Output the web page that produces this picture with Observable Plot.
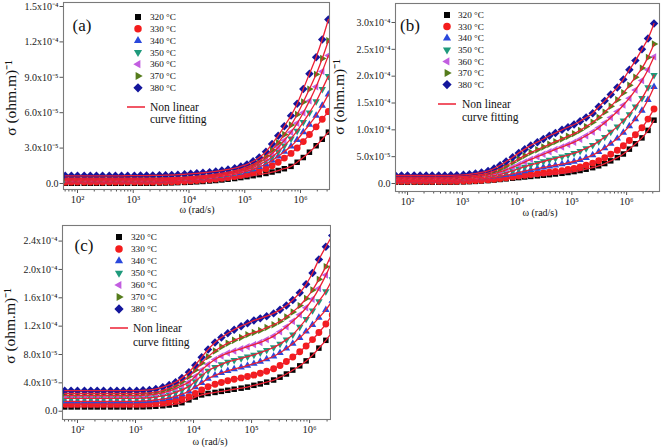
<!DOCTYPE html>
<html><head><meta charset="utf-8">
<script src="https://cdn.jsdelivr.net/npm/d3@7"></script>
<script src="https://cdn.jsdelivr.net/npm/@observablehq/plot@0.6"></script>
<style>
body{margin:0;background:#fff;}
#wrap{position:relative;width:661px;height:448px;overflow:hidden;background:#fff;}
#wrap svg{position:absolute;}
</style></head><body><div id="wrap"></div>
<script>
// ---------- data (σ in units of 1e-5 (ohm.m)^-1, x = log10 ω) ----------
const logOmega = [1.78,1.89,2.00,2.12,2.23,2.34,2.45,2.57,2.68,2.79,2.90,3.02,3.13,3.24,3.35,3.47,3.58,3.69,3.80,3.92,4.03,4.14,4.25,4.37,4.48,4.59,4.70,4.82,4.93,5.04,5.15,5.26,5.38,5.49,5.60,5.71,5.83,5.94,6.05,6.16,6.28,6.39,6.50];
const temps = ["320 °C","330 °C","340 °C","350 °C","360 °C","370 °C","380 °C"];

// panel (a)
const a320 = [0.02,0.02,0.02,0.02,0.02,0.02,0.02,0.02,0.02,0.02,0.02,0.02,0.02,0.02,0.02,0.03,0.04,0.05,0.07,0.09,0.11,0.14,0.17,0.21,0.25,0.30,0.36,0.42,0.50,0.58,0.66,0.75,0.85,0.97,1.10,1.25,1.45,1.80,2.20,2.65,3.20,3.75,4.35];
const a330 = [0.12,0.12,0.12,0.12,0.12,0.12,0.12,0.12,0.12,0.12,0.12,0.12,0.12,0.12,0.12,0.13,0.14,0.15,0.17,0.19,0.22,0.25,0.29,0.33,0.38,0.44,0.51,0.59,0.68,0.79,0.92,1.07,1.25,1.50,1.80,2.15,2.55,3.00,3.55,4.15,4.80,5.45,6.10];
const a340 = [0.22,0.22,0.22,0.22,0.22,0.22,0.22,0.22,0.22,0.22,0.22,0.22,0.22,0.22,0.22,0.23,0.24,0.26,0.28,0.31,0.34,0.38,0.42,0.47,0.53,0.60,0.68,0.78,0.90,1.04,1.20,1.40,1.65,1.95,2.30,2.70,3.15,3.70,4.35,5.00,5.75,6.60,7.55];
const a350 = [0.30,0.30,0.30,0.30,0.30,0.30,0.30,0.30,0.30,0.30,0.30,0.30,0.30,0.30,0.30,0.31,0.32,0.34,0.36,0.39,0.42,0.46,0.51,0.56,0.62,0.70,0.79,0.90,1.03,1.18,1.37,1.60,1.90,2.25,2.70,3.20,3.80,4.45,5.20,6.00,6.95,8.00,9.10];
const a360 = [0.38,0.38,0.38,0.38,0.38,0.38,0.38,0.38,0.38,0.38,0.38,0.38,0.38,0.38,0.38,0.39,0.40,0.42,0.44,0.47,0.50,0.54,0.59,0.64,0.70,0.78,0.87,0.98,1.12,1.28,1.50,1.78,2.12,2.55,3.05,3.65,4.35,5.10,6.00,7.00,8.20,9.50,10.85];
const a370 = [0.45,0.45,0.45,0.45,0.45,0.45,0.45,0.45,0.45,0.45,0.45,0.45,0.45,0.45,0.45,0.46,0.47,0.49,0.51,0.54,0.58,0.62,0.67,0.72,0.79,0.87,0.96,1.08,1.22,1.40,1.63,1.93,2.35,2.85,3.45,4.15,4.95,5.85,6.90,8.00,9.25,10.6,12.1];
const a380 = [0.65,0.65,0.65,0.65,0.65,0.65,0.65,0.65,0.65,0.65,0.66,0.66,0.67,0.67,0.68,0.69,0.70,0.72,0.75,0.78,0.82,0.86,0.91,0.96,1.02,1.10,1.19,1.30,1.45,1.62,1.88,2.20,2.70,3.35,4.05,4.85,5.75,6.75,8.00,9.30,10.7,12.2,13.9];

// panel (b)
const b320 = [0.25,0.25,0.25,0.25,0.25,0.25,0.25,0.25,0.25,0.25,0.27,0.30,0.34,0.39,0.46,0.54,0.64,0.75,0.87,0.99,1.10,1.21,1.32,1.43,1.54,1.65,1.77,1.90,2.05,2.22,2.42,2.66,2.95,3.30,3.72,4.22,4.82,5.50,6.40,7.40,8.50,9.90,11.8];
const b330 = [0.40,0.40,0.40,0.40,0.40,0.40,0.40,0.40,0.40,0.40,0.42,0.45,0.49,0.54,0.61,0.70,0.81,0.94,1.08,1.23,1.38,1.52,1.66,1.80,1.94,2.08,2.23,2.40,2.60,2.82,3.08,3.40,3.80,4.25,4.80,5.45,6.20,7.05,8.00,9.10,10.4,12.0,13.9];
const b340 = [0.60,0.60,0.60,0.60,0.60,0.60,0.60,0.60,0.60,0.60,0.63,0.67,0.72,0.79,0.88,1.00,1.15,1.33,1.55,1.80,2.05,2.30,2.55,2.78,3.00,3.20,3.40,3.62,3.85,4.10,4.40,4.80,5.30,5.90,6.60,7.45,8.40,9.50,10.7,12.0,13.6,15.6,18.0];
const b350 = [0.80,0.80,0.80,0.80,0.80,0.80,0.80,0.80,0.80,0.80,0.83,0.88,0.95,1.03,1.14,1.28,1.46,1.70,2.00,2.35,2.75,3.10,3.45,3.80,4.10,4.40,4.70,5.00,5.30,5.65,6.05,6.55,7.15,7.85,8.65,9.60,10.6,11.7,12.9,14.3,15.9,17.9,20.2];
const b360 = [1.00,1.00,1.00,1.00,1.00,1.00,1.00,1.00,1.00,1.00,1.04,1.10,1.18,1.28,1.42,1.60,1.85,2.15,2.55,3.00,3.50,4.00,4.50,5.00,5.45,5.90,6.35,6.80,7.25,7.70,8.25,8.90,9.60,10.4,11.3,12.3,13.4,14.6,15.9,17.4,19.2,21.2,23.6];
const b370 = [1.20,1.20,1.20,1.20,1.20,1.20,1.20,1.20,1.20,1.20,1.25,1.30,1.40,1.52,1.70,1.95,2.30,2.75,3.30,3.95,4.60,5.20,5.80,6.30,6.80,7.30,7.80,8.30,8.80,9.30,9.90,10.6,11.4,12.3,13.3,14.4,15.6,16.9,18.3,19.8,21.5,23.5,26.0];
const b380 = [1.50,1.50,1.50,1.50,1.50,1.50,1.50,1.50,1.50,1.52,1.55,1.62,1.72,1.85,2.05,2.35,2.80,3.40,4.10,4.90,5.70,6.40,7.10,7.70,8.30,8.90,9.40,10.0,10.5,11.0,11.6,12.3,13.1,14.3,15.4,16.6,17.9,19.4,21.2,22.9,25.0,27.0,29.8];

// panel (c)
const c320 = [0.60,0.60,0.60,0.60,0.60,0.60,0.60,0.60,0.60,0.60,0.60,0.60,0.62,0.65,0.70,0.77,0.87,1.00,1.20,1.60,2.00,2.30,2.50,2.65,2.80,2.95,3.10,3.25,3.40,3.65,3.85,4.10,4.40,4.80,5.25,5.80,6.40,7.10,7.90,8.90,10.0,11.2,12.5];
const c330 = [1.00,1.00,1.00,1.00,1.00,1.00,1.00,1.00,1.00,1.00,1.00,1.00,1.03,1.07,1.13,1.22,1.35,1.52,1.75,2.05,2.50,3.00,3.45,3.80,4.05,4.30,4.50,4.70,4.90,5.10,5.35,5.65,6.00,6.45,7.00,7.65,8.40,9.20,10.1,11.1,12.3,13.6,15.0];
const c340 = [1.40,1.40,1.40,1.40,1.40,1.40,1.40,1.40,1.40,1.40,1.40,1.40,1.44,1.50,1.58,1.70,1.88,2.10,2.40,2.80,3.40,4.00,4.60,5.05,5.40,5.70,5.95,6.20,6.45,6.70,7.00,7.35,7.75,8.25,8.85,9.55,10.35,11.25,12.2,13.2,14.3,15.6,17.0];
const c350 = [1.80,1.80,1.80,1.80,1.80,1.80,1.80,1.80,1.80,1.80,1.80,1.80,1.85,1.90,2.00,2.15,2.35,2.65,3.00,3.50,4.20,5.00,5.70,6.20,6.60,6.95,7.20,7.45,7.70,7.95,8.25,8.60,9.00,9.50,10.1,10.8,11.9,13.0,14.2,15.5,16.9,18.6,20.6];
const c360 = [2.20,2.20,2.20,2.20,2.20,2.20,2.20,2.20,2.20,2.20,2.20,2.20,2.25,2.30,2.40,2.60,2.85,3.20,3.60,4.10,4.90,5.80,6.60,7.30,7.80,8.20,8.50,8.80,9.10,9.40,9.70,10.1,10.6,11.2,11.9,12.7,13.6,14.6,15.8,17.3,19.2,21.2,23.4];
const c370 = [2.50,2.50,2.50,2.50,2.50,2.50,2.50,2.50,2.50,2.50,2.50,2.50,2.55,2.60,2.72,2.95,3.25,3.65,4.20,4.90,5.80,6.80,7.70,8.50,9.10,9.60,10.0,10.4,10.8,11.1,11.4,11.8,12.2,12.7,13.3,14.0,14.9,15.9,17.1,18.6,20.4,22.4,24.6];
const c380 = [2.90,2.90,2.90,2.90,2.90,2.90,2.90,2.90,2.90,2.90,2.90,2.90,2.95,3.00,3.15,3.40,3.70,4.10,4.70,5.50,6.50,7.60,8.70,9.70,10.4,11.0,11.5,12.0,12.4,12.8,13.1,13.4,13.8,14.3,14.9,15.7,16.7,17.9,19.5,21.4,23.2,24.8,26.8];

// tick labels
const xTicks = [1e2,1e3,1e4,1e5,1e6];
const xTickLabels = ["10²","10³","10⁴","10⁵","10⁶"];
const yTicksA = [0,3,6,9,12,15];
const yLabelsA = ["0.0","3.0x10⁻⁵","6.0x10⁻⁵","9.0x10⁻⁵","1.2x10⁻⁴","1.5x10⁻⁴"];
const yTicksB = [0,5,10,15,20,25,30];
const yLabelsB = ["0.0","5.0x10⁻⁵","1.0x10⁻⁴","1.5x10⁻⁴","2.0x10⁻⁴","2.5x10⁻⁴","3.0x10⁻⁴"];
const yTicksC = [0,4,8,12,16,20,24];
const yLabelsC = ["0.0","4.0x10⁻⁵","8.0x10⁻⁵","1.2x10⁻⁴","1.6x10⁻⁴","2.0x10⁻⁴","2.4x10⁻⁴"];
const yTitle = "σ (ohm.m)⁻¹";
const xTitle = "ω (rad/s)";
const fitLabel = ["Non linear","curve fitting"];

// ---------- styling ----------
const FONT = "'Liberation Serif','Times New Roman',serif";
const COLORS = ["#050505","#f41c1c","#2a48dc","#1f9a7c","#c25ee0","#557c1c","#14169c"];
const FIT = "#ec1f33";
function tri(deg){return {draw(ctx,size){const R=Math.sqrt(size/Math.PI)*1.32;for(let j=0;j<3;j++){const a=(deg+120*j)*Math.PI/180;const x=R*Math.cos(a),y=R*Math.sin(a);j?ctx.lineTo(x,y):ctx.moveTo(x,y);}ctx.closePath();}};}
const diamond = {draw(ctx,size){const R=Math.sqrt(size/Math.PI)*1.3;ctx.moveTo(0,-R);ctx.lineTo(R,0);ctx.lineTo(0,R);ctx.lineTo(-R,0);ctx.closePath();}};
const square = {draw(ctx,size){const s=Math.sqrt(size)*0.95/2;ctx.rect(-s,-s,2*s,2*s);}};
const circle = {draw(ctx,size){const r=Math.sqrt(size/Math.PI)*1.05;ctx.moveTo(r,0);ctx.arc(0,0,r,0,2*Math.PI);}};
const SYMS = [square, circle, tri(-90), tri(90), tri(180), tri(0), diamond];

const panels = [
  {series:[a320,a330,a340,a350,a360,a370,a380], yTicks:yTicksA, yLabels:yLabelsA, tag:"(a)",
   left:0, top:0, width:331, height:218, mt:2, mr:2, mb:29, ml:63, xd:[1.749,6.52], yd:[-0.51,15.34],
   leg:{mx:138, tx:150, y0:17, dy:11.8, ly:107, lx0:127, lx1:145, ftx:150, fdy:12}, tagPos:[82,25], yl:[11,98], xl:[197,209]},
  {series:[b320,b330,b340,b350,b360,b370,b380], yTicks:yTicksB, yLabels:yLabelsB, tag:"(b)",
   left:330, top:0, width:331, height:220, mt:3, mr:2, mb:29, ml:65, xd:[1.78,6.60], yd:[-1.49,33.54],
   leg:{mx:117, tx:128, y0:15, dy:11.6, ly:104, lx0:108, lx1:126, ftx:132, fdy:13}, tagPos:[80,25], yl:[9,97], xl:[210,212]},
  {series:[c320,c330,c340,c350,c360,c370,c380], yTicks:yTicksC, yLabels:yLabelsC, tag:"(c)",
   left:0, top:220, width:331, height:228, mt:5, mr:1, mb:29, ml:62, xd:[1.742,6.36], yd:[-1.17,26.2],
   leg:{mx:119, tx:131, y0:17, dy:12, ly:108, lx0:110, lx1:128, ftx:133, fdy:14}, tagPos:[84,25], yl:[10,106], xl:[210,221]}
];

const wrap = document.getElementById("wrap");
for (const P of panels) {
  const rows = [];
  P.series.forEach((arr,k)=>arr.forEach((v,i)=>rows.push({w:Math.pow(10,logOmega[i]), v, k})));
  const xLab = new Map(xTicks.map((t,i)=>[t,xTickLabels[i]]));
  const yLab = new Map(P.yTicks.map((t,i)=>[t,P.yLabels[i]]));
  const minor = d3.scaleLog().domain([Math.pow(10,P.xd[0]),Math.pow(10,P.xd[1])]).ticks().filter(t=>!xTicks.includes(t));
  const marks = [
    Plot.axisX(minor,{tickSize:2.5, tickFormat:()=>"", stroke:"#555"}),
    Plot.axisX(xTicks,{tickSize:4, tickPadding:2, tickFormat:d=>xLab.get(d), fontSize:10.5, stroke:"#555", fill:"#222"}),
    Plot.axisY(P.yTicks,{tickSize:3.5, tickPadding:1.5, tickFormat:d=>yLab.get(d), fontSize:10, stroke:"#555", fill:"#222"}),
  ];
  P.series.forEach((arr,k)=>{
    marks.push(Plot.dot(rows.filter(d=>d.k===k),{x:"w", y:"v", r:3.25, symbol:SYMS[k], fill:COLORS[k], stroke:"none", clip:true}));
  });
  P.series.forEach((arr,k)=>{
    marks.push(Plot.line(rows.filter(d=>d.k===k),{x:"w", y:"v", stroke:FIT, strokeWidth:1.3, curve:"catmull-rom", clip:true}));
  });
  marks.push(Plot.frame({stroke:"#7a7a7a", strokeWidth:1.1}));
  const svg = Plot.plot({
    width:P.width, height:P.height,
    marginTop:P.mt, marginRight:P.mr, marginBottom:P.mb, marginLeft:P.ml,
    x:{type:"log", domain:[Math.pow(10,P.xd[0]),Math.pow(10,P.xd[1])], label:null},
    y:{domain:P.yd, label:null},
    style:{fontFamily:FONT, background:"transparent", color:"#222"},
    marks
  });
  svg.style.left = P.left+"px";
  svg.style.top = P.top+"px";
  const g = d3.select(svg).append("g").attr("font-family",FONT).attr("fill","#111").attr("text-anchor","start");
  // legend
  const L = P.leg;
  temps.forEach((t,k)=>{
    const y = L.y0 + k*L.dy;
    g.append("path").attr("transform",`translate(${L.mx},${y})`).attr("d",d3.symbol().type(SYMS[k]).size(40)()).attr("fill",COLORS[k]);
    g.append("text").attr("x",L.tx).attr("y",y).attr("dy","0.35em").attr("text-anchor","start").attr("font-size",9.2).text(t);
  });
  g.append("line").attr("x1",L.lx0).attr("x2",L.lx1).attr("y1",L.ly).attr("y2",L.ly).attr("stroke",FIT).attr("stroke-width",1.5);
  g.append("text").attr("x",L.ftx).attr("y",L.ly).attr("dy","0.35em").attr("text-anchor","start").attr("font-size",11.5).text(fitLabel[0]);
  g.append("text").attr("x",L.ftx).attr("y",L.ly+L.fdy).attr("dy","0.35em").attr("text-anchor","start").attr("font-size",11.5).text(fitLabel[1]);
  // panel tag
  g.append("text").attr("x",P.tagPos[0]).attr("y",P.tagPos[1]).attr("dy","0.35em").attr("text-anchor","middle").attr("font-size",17).text(P.tag);
  // axis titles
  g.append("text").attr("transform",`translate(${P.yl[0]},${P.yl[1]}) rotate(-90)`).attr("dy","0.35em").attr("text-anchor","middle").attr("font-size",15.5).text(yTitle);
  g.append("text").attr("x",P.xl[0]).attr("y",P.xl[1]).attr("dy","0.35em").attr("text-anchor","middle").attr("font-size",10).text(xTitle);
  wrap.appendChild(svg);
}
</script>
</body></html>
